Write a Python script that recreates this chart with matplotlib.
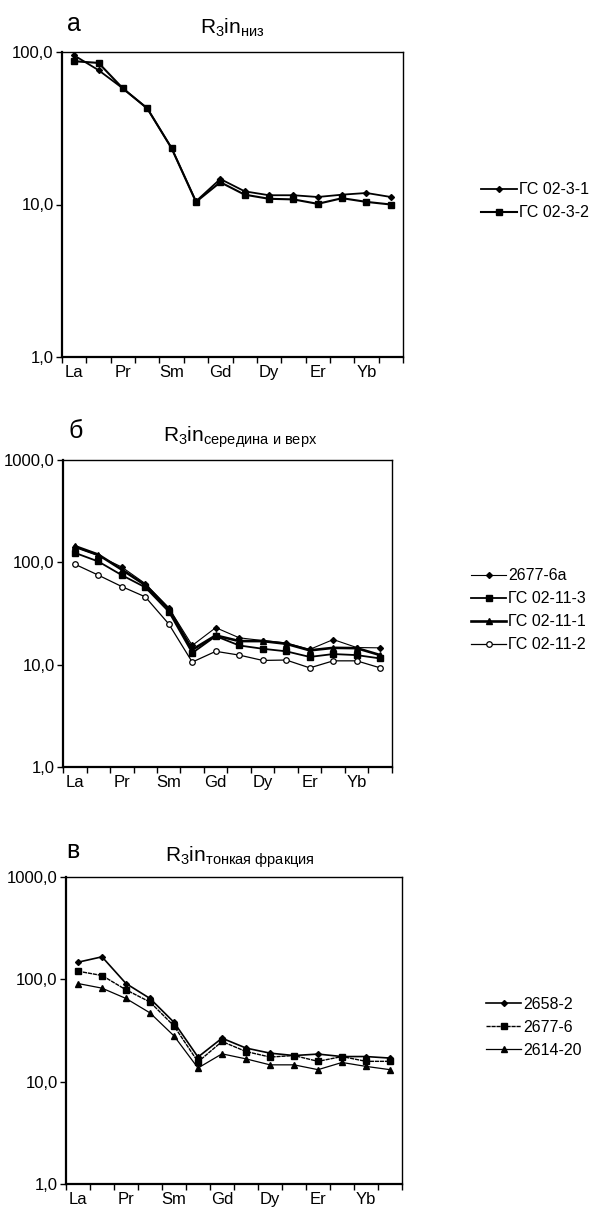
import matplotlib
matplotlib.use('Agg')
import matplotlib.pyplot as plt
from matplotlib.ticker import FixedLocator, NullLocator, FixedFormatter
import numpy as np

plt.rcParams['font.family'] = ['Liberation Sans', 'DejaVu Sans']
plt.rcParams['mathtext.fontset'] = 'custom'
plt.rcParams['mathtext.rm'] = 'Liberation Sans'
plt.rcParams['mathtext.it'] = 'Liberation Sans:italic'

elements = ['La', 'Ce', 'Pr', 'Nd', 'Sm', 'Eu', 'Gd', 'Tb', 'Dy', 'Ho', 'Er', 'Tm', 'Yb', 'Lu']
shown_labels = ['La', '', 'Pr', '', 'Sm', '', 'Gd', '', 'Dy', '', 'Er', '', 'Yb', '']

# panel a: R3in niz
a_names = ['ГС 02-3-1', 'ГС 02-3-2']
gs_02_3_1 = [95, 76, 57.7, 42.7, 23.4, 10.5, 14.7, 12.2, 11.5, 11.5, 11.2, 11.6, 11.9, 11.2]
gs_02_3_2 = [87, 84.8, 57.7, 42.7, 23.4, 10.4, 14.0, 11.6, 10.9, 10.8, 10.1, 11.0, 10.4, 10.0]

# panel b: R3in seredina i verh
b_names = ['2677-6а', 'ГС 02-11-3', 'ГС 02-11-1', 'ГС 02-11-2']
s_2677_6a = [140, 116, 90, 62, 36, 15.4, 23, 18.3, 17.2, 16.3, 14.1, 17.6, 14.7, 14.6]
gs_02_11_3 = [124, 102, 75, 57, 33, 13, 19, 15.4, 14.3, 13.5, 11.9, 12.7, 12.4, 11.5]
gs_02_11_1 = [144, 119, 85, 60, 35, 14, 19.3, 17, 17, 16, 13.8, 14.6, 14.5, 12.4]
gs_02_11_2 = [96, 75, 58, 46, 25, 10.6, 13.5, 12.4, 11.0, 11.1, 9.3, 10.9, 10.9, 9.3]

# panel c: R3in tonkaya fraktsiya
c_names = ['2658-2', '2677-6', '2614-20']
s_2658_2 = [147, 166, 91, 65, 38, 17.4, 26.6, 21.3, 19, 18, 18.6, 17.6, 17.6, 17]
s_2677_6 = [120, 109, 79, 60, 35, 15.6, 24.7, 19.7, 17.4, 18, 15.8, 17.6, 15.8, 15.8]
s_2614_20 = [91, 82, 65, 47, 28, 13.6, 18.7, 16.7, 14.6, 14.6, 13.1, 15.4, 14.1, 13.1]

W, H = 602, 1211
fig = plt.figure(figsize=(W / 100, H / 100), dpi=100)


def px_axes(left, right, top, bottom):
    return fig.add_axes([left / W, 1 - bottom / H, (right - left) / W, (bottom - top) / H])


def style_axes(ax, ymax, yticklabels):
    x = np.arange(len(elements))
    ax.set_yscale('log')
    ax.set_xlim(-0.5, len(elements) - 0.5)
    ax.set_ylim(1, ymax)
    ax.xaxis.set_major_locator(FixedLocator(x))
    ax.xaxis.set_major_formatter(FixedFormatter(shown_labels))
    ax.xaxis.set_minor_locator(FixedLocator(np.arange(len(elements) + 1) - 0.5))
    ax.tick_params(axis='x', which='major', length=0, pad=6, labelsize=12)
    ax.tick_params(axis='x', which='minor', length=4, width=1, direction='out')
    decades = [10 ** i for i in range(len(yticklabels))]
    ax.yaxis.set_major_locator(FixedLocator(decades))
    ax.yaxis.set_major_formatter(FixedFormatter(yticklabels))
    ax.yaxis.set_minor_locator(NullLocator())
    ax.tick_params(axis='y', which='major', length=4, width=1, direction='out', labelsize=12, pad=2)
    for side in ['left', 'bottom']:
        ax.spines[side].set_linewidth(1.6)
    for side in ['top', 'right']:
        ax.spines[side].set_linewidth(1.0)


def draw(ax, series, names, styles, legend_x):
    x = np.arange(len(elements))
    for vals, name, st in zip(series, names, styles):
        ax.plot(x, vals, color='black', label=name, **st)
    ax.legend(loc='center left', bbox_to_anchor=(legend_x, 0.51), frameon=False,
              fontsize=11.5, handlelength=2.2, handletextpad=0.15, labelspacing=0.5,
              borderpad=0, borderaxespad=0)


# --- panel a
ax1 = px_axes(62, 403, 52, 357)
style_axes(ax1, 100, ['1,0', '10,0', '100,0'])
draw(ax1, [gs_02_3_1, gs_02_3_2], a_names,
     [dict(lw=1.3, marker='D', ms=3),
      dict(lw=1.5, marker='s', ms=4)], 1.23)
fig.text(67 / W, 1 - 24 / H, 'а', fontsize=18, va='center', ha='left')
fig.text(232 / W, 1 - 28 / H, r'$\mathrm{R_3in_{низ}}$', fontsize=15, va='center', ha='center')

# --- panel b
ax2 = px_axes(63, 392, 460, 767)
style_axes(ax2, 1000, ['1,0', '10,0', '100,0', '1000,0'])
draw(ax2, [s_2677_6a, gs_02_11_3, gs_02_11_1, gs_02_11_2], b_names,
     [dict(lw=0.8, marker='D', ms=3),
      dict(lw=1.3, marker='s', ms=4),
      dict(lw=1.9, marker='^', ms=4),
      dict(lw=0.9, marker='o', ms=4, mfc='white', mew=0.9)], 1.24)
fig.text(68 / W, 1 - 431 / H, 'б', fontsize=18, va='center', ha='left')
fig.text(240 / W, 1 - 437 / H, r'$\mathrm{R_3in_{середина\ и\ верх}}$', fontsize=15, va='center', ha='center')

# --- panel c
ax3 = px_axes(66, 402, 877, 1184)
style_axes(ax3, 1000, ['1,0', '10,0', '100,0', '1000,0'])
draw(ax3, [s_2658_2, s_2677_6, s_2614_20], c_names,
     [dict(lw=1.2, marker='D', ms=3),
      dict(lw=1.0, marker='s', ms=4, ls=(0, (3, 0.6))),
      dict(lw=0.9, marker='^', ms=4)], 1.25)
fig.text(66 / W, 1 - 851 / H, 'в', fontsize=18, va='center', ha='left')
fig.text(240 / W, 1 - 857 / H, r'$\mathrm{R_3in_{тонкая\ фракция}}$', fontsize=15, va='center', ha='center')

fig.savefig('out.png', dpi=100)
